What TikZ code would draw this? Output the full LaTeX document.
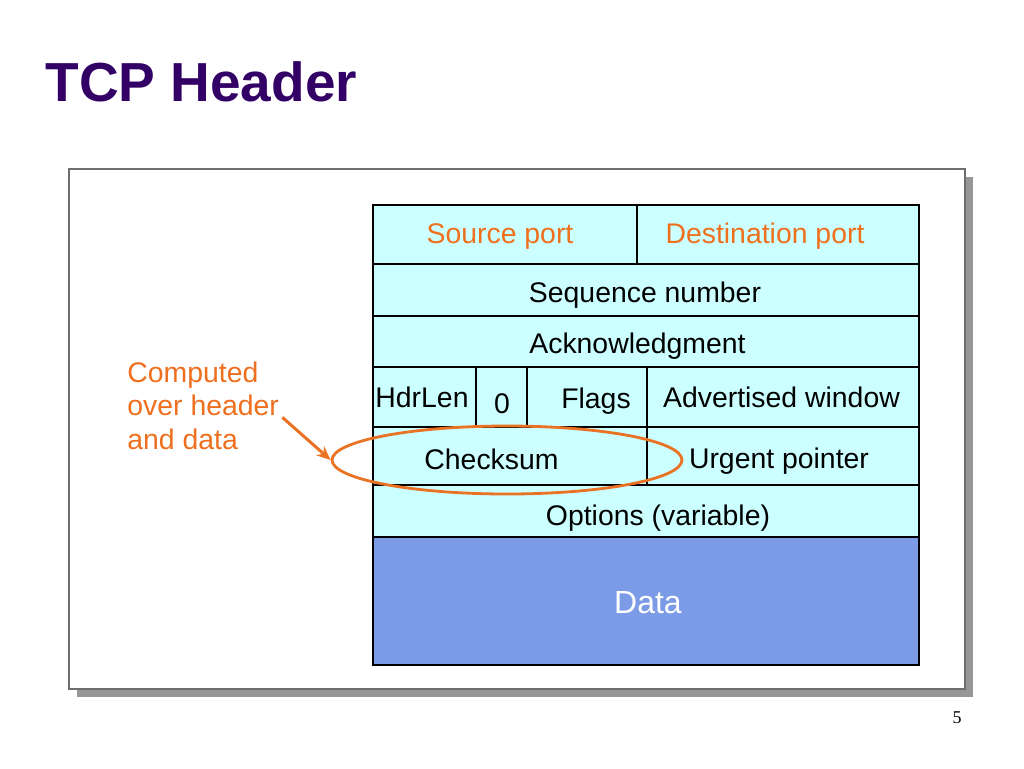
\documentclass[tikz,border=0pt]{standalone}
\usepackage{fontspec}
\setmainfont{Liberation Sans}
\newfontfamily\pagefont{Liberation Serif}
\usetikzlibrary{shapes.geometric,arrows.meta}

\definecolor{titlepurple}{RGB}{51,0,102}
\definecolor{hdrorange}{RGB}{238,112,30}
\definecolor{ringorange}{RGB}{234,114,36}
\definecolor{cellcyan}{RGB}{204,255,255}
\definecolor{datablue}{RGB}{123,155,230}
\definecolor{framegray}{RGB}{110,110,110}
\definecolor{shadowgray}{RGB}{150,150,150}

\tikzset{
    cell/.style={draw=black, line width=0.6pt, fill=cellcyan, inner sep=0pt, outer sep=0pt},
    lbl/.style={font=\fontsize{14.2}{17}\selectfont, inner sep=0pt, anchor=base},
    portlbl/.style={lbl, text=hdrorange},
    ring/.style={draw=ringorange, line width=1.4pt, ellipse, inner sep=0pt},
}

\begin{document}
\begin{tikzpicture}[x=0.5pt, y=-0.5pt]
    \useasboundingbox (0,0) rectangle (1024,768);

    % title
    \node[anchor=base west, inner sep=0pt, text=titlepurple,
          font=\fontsize{27.5}{30}\selectfont\bfseries] (title) at (45,101) {TCP Header};

    % frame with shadow
    \fill[shadowgray] (77,177) rectangle (973,697);
    \draw[framegray, line width=1pt, fill=white] (69,169) rectangle (965,689);

    % header rows
    \node[cell, minimum width=132pt, minimum height=29.5pt] (src)   at (505,234.5) {};
    \node[cell, minimum width=141pt, minimum height=29.5pt] (dst)   at (778,234.5) {};
    \node[cell, minimum width=273pt, minimum height=26pt]   (seq)   at (646,290)   {};
    \node[cell, minimum width=273pt, minimum height=26pt]   (ack)   at (646,342)   {};
    \node[cell, minimum width=51.5pt, minimum height=30pt]  (hlen)  at (424.5,397) {};
    \node[cell, minimum width=25.5pt, minimum height=30pt]  (zero)  at (501.5,397) {};
    \node[cell, minimum width=60pt, minimum height=30pt]    (flags) at (587,397)   {};
    \node[cell, minimum width=136pt, minimum height=30pt]   (win)   at (783,397)   {};
    \node[cell, minimum width=137pt, minimum height=29pt]   (chk)   at (510,456)   {};
    \node[cell, minimum width=136pt, minimum height=29pt]   (urg)   at (783,456)   {};
    \node[cell, minimum width=273pt, minimum height=25.5pt] (opt)   at (646,511)   {};
    \node[cell, fill=datablue, minimum width=273pt, minimum height=64pt] (data) at (646,601) {};

    % field names
    \node[portlbl] (srcT)   at (500,243) {Source port};
    \node[portlbl] (dstT)   at (765,243) {Destination port};
    \node[lbl]     (seqT)   at (645,302) {Sequence number};
    \node[lbl]     (ackT)   at (637.5,353) {Acknowledgment};
    \node[lbl]     (hlenT)  at (422,407) {HdrLen};
    \node[lbl]     (zeroT)  at (502,413) {0};
    \node[lbl]     (flagsT) at (596,408) {Flags};
    \node[lbl]     (winT)   at (781.5,407) {Advertised window};
    \node[lbl]     (chkT)   at (491.5,469) {Checksum};
    \node[lbl]     (urgT)   at (779,468) {Urgent pointer};
    \node[lbl]     (optT)   at (658,525) {Options (variable)};
    \node[lbl, text=white, font=\fontsize{16}{19}\selectfont] (dataT) at (648,613) {Data};

    % checksum note
    \node[ring, minimum width=175pt, minimum height=34pt] (ring) at (507,460) {};
    \node[anchor=base west, inner sep=0pt, align=left, text=hdrorange,
          font=\fontsize{14.2}{16.75}\selectfont] (note) at (127,449)
          {Computed\\over header\\and data};
    \draw[ringorange, line width=1.5pt, -{Stealth[length=7pt, width=6pt]}]
        ([shift={(3,12)}]note.east) -- (ring.west);

    % page number
    \node[anchor=base, inner sep=0pt, font=\pagefont\fontsize{9}{11}\selectfont] (pnum) at (957,723) {5};
\end{tikzpicture}
\end{document}
